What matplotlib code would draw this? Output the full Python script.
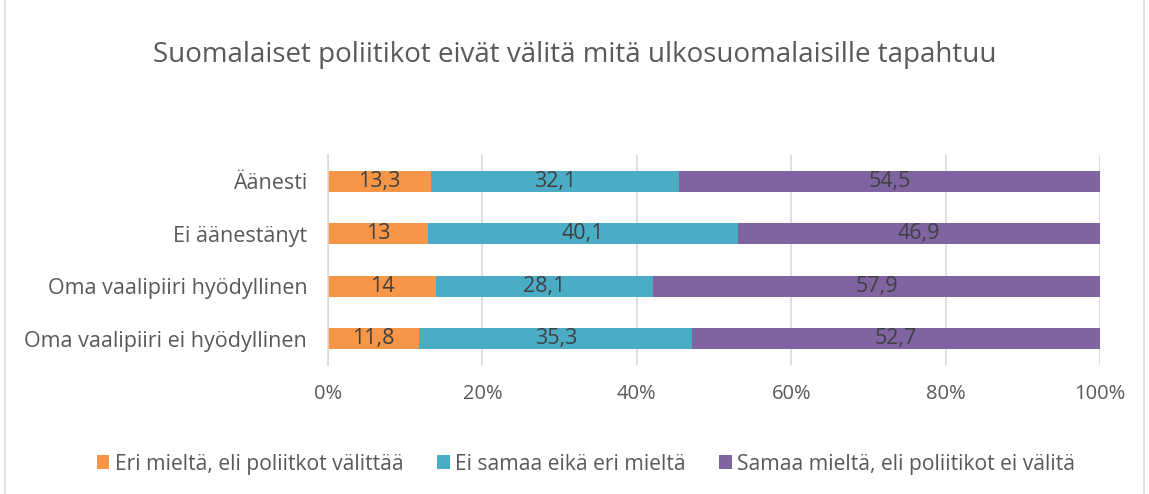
import matplotlib.pyplot as plt
import numpy as np
from matplotlib.patches import Rectangle

plt.rcParams['font.family'] = ['Open Sans', 'DejaVu Sans']

categories = ['Äänesti', 'Ei äänestänyt', 'Oma vaalipiiri hyödyllinen', 'Oma vaalipiiri ei hyödyllinen']
series_names = ['Eri mieltä, eli poliitkot välittää', 'Ei samaa eikä eri mieltä',
                'Samaa mieltä, eli poliitikot ei välitä']
eri = [13.3, 13, 14, 11.8]
ei_samaa = [32.1, 40.1, 28.1, 35.3]
samaa = [54.5, 46.9, 57.9, 52.7]
colors = ['#F79646', '#4BACC6', '#8064A2']

vals = np.array([eri, ei_samaa, samaa])
totals = vals.sum(axis=0)
shares = vals / totals * 100

fig = plt.figure(figsize=(11.49, 4.94), dpi=100)
ax = fig.add_axes([328/1149, 1 - 365/494, (1100 - 328)/1149, 210/494])

y = np.arange(len(categories))[::-1]
left = np.zeros(len(categories))
for i in range(3):
    ax.barh(y, shares[i], left=left, height=0.4, color=colors[i], label=series_names[i], zorder=2)
    for j in range(len(categories)):
        txt = ('%g' % vals[i][j]).replace('.', ',')
        ax.text(left[j] + shares[i][j] / 2, y[j], txt, ha='center', va='center',
                fontsize=15.5, color='#404040', zorder=3)
    left += shares[i]

ax.set_xlim(0, 100)
ax.set_ylim(-0.5, 3.5)
ax.set_yticks(y)
ax.set_yticklabels(categories, fontsize=15.5, color='#595959')
ax.set_xticks([0, 20, 40, 60, 80, 100])
ax.set_xticklabels(['0%', '20%', '40%', '60%', '80%', '100%'], fontsize=14.5, color='#595959')
ax.tick_params(axis='both', length=0)
ax.tick_params(axis='x', pad=14)
ax.tick_params(axis='y', pad=15)
ax.grid(axis='x', color='#D9D9D9', linewidth=1.2, zorder=0)
for s in ['top', 'right', 'bottom']:
    ax.spines[s].set_visible(False)
ax.spines['left'].set_color('#D9D9D9')
ax.spines['left'].set_linewidth(1.2)

fig.text(0.5, 1 - 55/494, 'Suomalaiset poliitikot eivät välitä mitä ulkosuomalaisille tapahtuu',
         ha='center', va='center', fontsize=20, color='#595959')

leg = fig.legend(loc='center', bbox_to_anchor=(0.51, 1 - 464/494), ncol=3, frameon=False,
                 fontsize=15.2, handlelength=0.6, handleheight=0.6, handletextpad=0.25,
                 columnspacing=1.6)
for t in leg.get_texts():
    t.set_color('#595959')

fig.patches.append(Rectangle((0.004, -0.01), 0.992, 1.02, transform=fig.transFigure,
                             fill=False, edgecolor='#D9D9D9', linewidth=1.2))

fig.savefig('out.png', dpi=100)
